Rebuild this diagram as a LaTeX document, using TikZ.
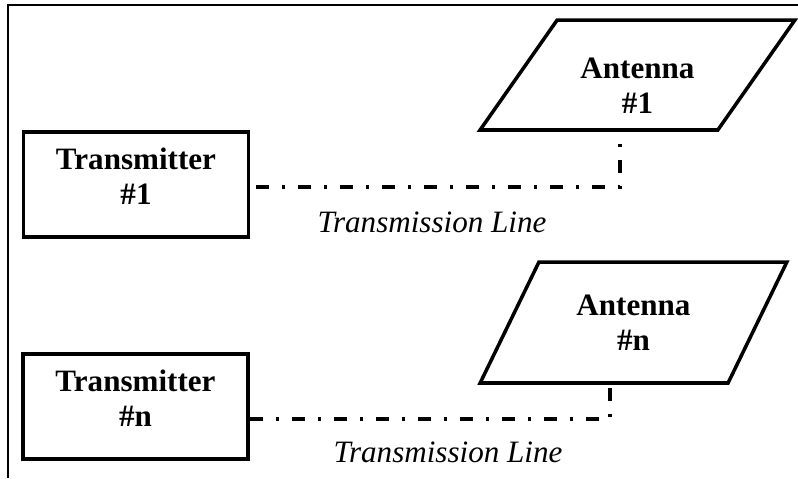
\documentclass[tikz,border=0pt]{standalone}
\usepackage{fontspec}
\setmainfont{Liberation Serif}
\usetikzlibrary{shapes.geometric}
\tikzset{
	emetteur/.style={draw, line width=2pt, minimum width=4.5cm, minimum height=2.1cm, align=center, text depth=9pt, font=\fontsize{17.7}{20}\selectfont\bfseries},
	antenne/.style={draw, line width=2pt, trapezium, trapezium stretches=true, inner sep=0pt, align=center, font=\fontsize{17.7}{20}\selectfont\bfseries},
	ligne/.style={line width=2pt, dash pattern=on 7.4pt off 7.4pt on 1.7pt off 7.4pt},
	legende/.style={font=\fontsize{17.7}{20}\selectfont\itshape}
}
\begin{document}
\begin{tikzpicture}[x=0.02cm, y=-0.02cm]
	\useasboundingbox (0,0) rectangle (798,478);
	% Cadre
	\draw[line width=1.3pt] (8,478) -- (8,5) -- (798,5);
	% Premier couple
	\node[emetteur] (tx1) at (136,184.5) {Transmitter\\\#1};
	\node[antenne, trapezium left angle=54.7, trapezium right angle=125.3, minimum width=6.3cm, minimum height=2.2cm, text height=44pt] (ant1) at (637.5,75) {Antenna\\\#1};
	\coordinate (coude1) at (620,187);
	\draw[ligne, shorten <=0.12cm] (tx1.east |- coude1) -- (coude1) -- (coude1 |- ant1.south);
	\node[legende] (lbl1) at (432,222) {Transmission Line};
	% Dernier couple
	\node[emetteur] (txn) at (135.5,406.5) {Transmitter\\\#n};
	\node[antenne, trapezium left angle=57.5, trapezium right angle=122.5, minimum width=6.14cm, minimum height=2.42cm] (antn) at (633.5,322.5) {Antenna\\\#n};
	\coordinate (coude2) at (610,419);
	\draw[ligne] (txn.east |- coude2) -- (coude2) -- (coude2 |- antn.south);
	\node[legende] (lbln) at (448,452) {Transmission Line};
\end{tikzpicture}
\end{document}
